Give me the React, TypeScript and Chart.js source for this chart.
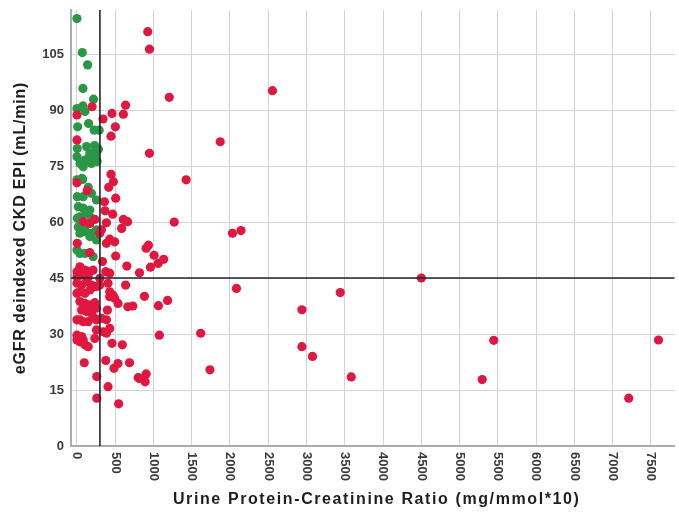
import React, { useEffect, useRef } from 'react';
import { Chart, registerables } from 'chart.js';

Chart.register(...registerables);

// Urine protein-creatinine ratio (mg/mmol*10) vs eGFR deindexed CKD EPI (mL/min)
const greenUpcr = [0, 69, 139, 78, 217, 0, 78, 104, 9, 152, 225, 290, 4, 126, 0, 39, 104, 169, 233, 190, 255, 82, 147, 263, 280, 230, 74, 0, 65, 147, 4, 82, 190, 255, 17, 82, 169, 39, 126, 190, 4, 17, 104, 190, 255, 39, 104, 169, 255, 0, 39, 104, 211];
const greenEgfr = [114.5, 105.4, 102.1, 95.8, 92.9, 90.4, 91.1, 89.6, 85.5, 86.4, 84.6, 84.6, 79.7, 80.2, 77.5, 75.7, 76.6, 78.4, 77.5, 75.7, 78.9, 74.8, 77.1, 76.2, 79.5, 80.5, 71.4, 71.3, 71.7, 69.3, 66.8, 66.8, 67.7, 65.9, 64.1, 63.7, 63.2, 61.4, 62.3, 61.0, 61.0, 58.7, 57.9, 57.0, 57.9, 57.0, 57.4, 56.1, 55.2, 52.5, 51.6, 51.6, 50.7];

const redUpcr = [
  2555, 1872, 2032, 2144, 2084, 4501, 3441, 2940, 1617, 2940, 3078, 1738, 3584, 5447, 5296, 7211, 7600,
  925, 947, 1206, 947, 1427, 1271, 904, 934, 1008, 1133, 1060, 960, 817, 882, 1184, 1064, 1077, 904, 891, 817,
  198, 0, 0, 341, 458, 606, 636, 502, 445,
  0, 134, 445, 476, 415, 506, 359, 367, 467, 606, 661, 385, 584, 320, 428, 493, 385,
  82, 169, 233, 4, 298, 169,
  506, 333, 652,
  39, 104, 169, 0, 61, 211, 0, 147,
  376, 428, 298,
  0, 61, 126, 190, 39, 104, 169, 233, 0, 255, 298, 406, 636, 428, 471, 428, 493, 536, 665, 730, 398,
  39, 104, 169, 233, 61, 126, 190, 255,
  0, 39, 82, 147, 211, 255, 320, 385,
  428, 341, 385, 255, 233,
  0, 61, 0, 39, 104, 147, 82,
  458, 593,
  95, 376, 536, 484, 687, 259, 406, 800, 259, 545
];
const redEgfr = [
  95.2, 81.5, 57.0, 57.7, 42.2, 45.0, 41.1, 36.5, 30.2, 26.6, 24.0, 20.4, 18.5, 28.3, 17.8, 12.8, 28.4,
  111.0, 106.3, 93.4, 78.4, 71.3, 60.0, 53.0, 53.8, 51.1, 50.0, 48.9, 47.9, 46.4, 40.1, 39.0, 37.6, 29.7, 19.3, 17.2, 18.1,
  90.9, 88.7, 82.0, 87.6, 89.1, 88.9, 91.3, 85.5, 83.0,
  70.5, 68.4, 72.8, 70.8, 69.3, 66.4, 65.4, 63.0, 62.1, 60.7, 60.1, 59.8, 58.3, 57.9, 55.4, 54.7, 54.3,
  60.1, 59.6, 60.7, 54.3, 57.0, 51.8,
  50.9, 49.4, 48.2,
  48.0, 47.1, 46.7, 46.7, 45.8, 47.1, 45.3, 45.3,
  46.7, 46.3, 44.9,
  43.6, 43.1, 44.0, 43.1, 41.3, 40.9, 41.8, 42.7, 40.9, 42.7, 43.1, 43.6, 43.1, 41.3, 40.4, 40.0, 39.6, 38.2, 37.3, 37.5, 36.4,
  38.7, 38.2, 37.8, 38.4, 36.4, 36.0, 35.6, 36.9,
  33.8, 33.8, 33.3, 33.3, 34.6, 33.8, 34.2, 33.8,
  31.5, 30.6, 30.2, 31.1, 28.8,
  29.7, 29.3, 28.4, 27.9, 27.1, 26.6, 28.4,
  27.5, 27.1,
  22.3, 22.9, 22.1, 20.8, 22.3, 18.6, 15.9, 18.3, 12.8, 11.3
];

const xTickValues = [0, 500, 1000, 1500, 2000, 2500, 3000, 3500, 4000, 4500, 5000, 5500, 6000, 6500, 7000, 7500];
const yTickValues = [0, 15, 30, 45, 60, 75, 90, 105];

const upcrCutoff = 300;
const egfrCutoff = 45;
const xTitle = 'Urine Protein-Creatinine Ratio (mg/mmol*10)';
const yTitle = 'eGFR deindexed CKD EPI (mL/min)';

const RED = '#e0173f';
const GREEN = '#2b9646';
const TICK_FONT = 'bold 13px "Liberation Sans", Arial, sans-serif';
const TITLE_FONT = 'bold 16px "Liberation Sans", Arial, sans-serif';

function toPoints(xs: number[], ys: number[]) {
  return xs.map((x, i) => ({ x, y: ys[i] }));
}

const overlayPlugin = {
  id: 'overlay',
  afterDatasetsDraw(chart: any) {
    const { ctx, chartArea, scales } = chart;
    const x = scales.x;
    const y = scales.y;
    ctx.save();
    ctx.strokeStyle = '#22262b';
    ctx.lineWidth = 1.6;
    const px = x.getPixelForValue(upcrCutoff);
    const py = y.getPixelForValue(egfrCutoff);
    ctx.beginPath();
    ctx.moveTo(px, chartArea.top);
    ctx.lineTo(px, chartArea.bottom);
    ctx.moveTo(chartArea.left, py);
    ctx.lineTo(chartArea.right, py);
    ctx.stroke();
    ctx.restore();
  },
  afterDraw(chart: any) {
    const { ctx, chartArea, scales } = chart;
    const x = scales.x;
    ctx.save();
    // x tick labels rotated clockwise
    ctx.font = TICK_FONT;
    ctx.fillStyle = '#3a3a3a';
    ctx.textAlign = 'left';
    ctx.textBaseline = 'middle';
    x.ticks.forEach((t: any) => {
      const px = x.getPixelForValue(t.value);
      ctx.save();
      ctx.translate(px, chartArea.bottom + 6);
      ctx.rotate(Math.PI / 2);
      ctx.fillText(String(t.value), 0, 0);
      ctx.restore();
    });
    // titles
    ctx.font = TITLE_FONT;
    ctx.fillStyle = '#1e1e1e';
    ctx.textAlign = 'center';
    ctx.textBaseline = 'middle';
    (ctx as any).letterSpacing = '1.6px';
    ctx.fillText(xTitle, (chartArea.left + chartArea.right) / 2 + 4, 500);
    (ctx as any).letterSpacing = '0.8px';
    ctx.save();
    ctx.translate(21, (chartArea.top + chartArea.bottom) / 2);
    ctx.rotate(-Math.PI / 2);
    ctx.fillText(yTitle, 0, 0);
    ctx.restore();
    (ctx as any).letterSpacing = '0px';
    ctx.restore();
  },
};

export default function App() {
  const canvasRef = useRef<HTMLCanvasElement | null>(null);

  useEffect(() => {
    if (!canvasRef.current) return;
    const chart = new Chart(canvasRef.current, {
      type: 'scatter',
      data: {
        datasets: [
          {
            label: 'UPCR ≥ 300 or eGFR < 45',
            data: toPoints(redUpcr, redEgfr),
            backgroundColor: RED,
            borderWidth: 0,
            pointRadius: 4.6,
          },
          {
            label: 'UPCR < 300 and eGFR ≥ 45',
            data: toPoints(greenUpcr, greenEgfr),
            backgroundColor: GREEN,
            borderWidth: 0,
            pointRadius: 4.6,
          },
        ],
      },
      options: {
        responsive: false,
        animation: false,
        devicePixelRatio: 1,
        layout: { padding: { top: 10, right: 0, left: 0, bottom: 0 } },
        plugins: {
          legend: { display: false },
          tooltip: { enabled: false },
        },
        scales: {
          x: {
            type: 'linear',
            min: -78,
            max: 7808,
            ticks: { display: false },
            afterBuildTicks: (s: any) => {
              s.ticks = xTickValues.map((v) => ({ value: v }));
            },
            grid: { color: '#d0d4d9', lineWidth: 1, drawTicks: false },
            border: { color: '#a8acb1', width: 2 },
            afterFit: (s: any) => {
              s.height = 71;
              s.paddingLeft = 0;
              s.paddingRight = 0;
            },
          },
          y: {
            type: 'linear',
            min: 0,
            max: 116.8,
            afterBuildTicks: (s: any) => {
              s.ticks = yTickValues.map((v) => ({ value: v }));
            },
            ticks: {
              padding: 7,
              color: '#3a3a3a',
              font: { family: '"Liberation Sans", Arial, sans-serif', size: 13, weight: 'bold' },
            },
            grid: { color: '#d0d4d9', lineWidth: 1, drawTicks: false },
            border: { color: '#a8acb1', width: 2 },
            afterFit: (s: any) => {
              s.width = 71;
              s.paddingTop = 0;
              s.paddingBottom = 0;
            },
          },
        },
      },
      plugins: [overlayPlugin],
    });
    return () => chart.destroy();
  }, []);

  return (
    <div style={{ position: 'fixed', left: 0, top: 0, width: 679, height: 517, background: '#fff' }}>
      <canvas ref={canvasRef} width={679} height={517} style={{ display: 'block', width: 679, height: 517 }} />
    </div>
  );
}
